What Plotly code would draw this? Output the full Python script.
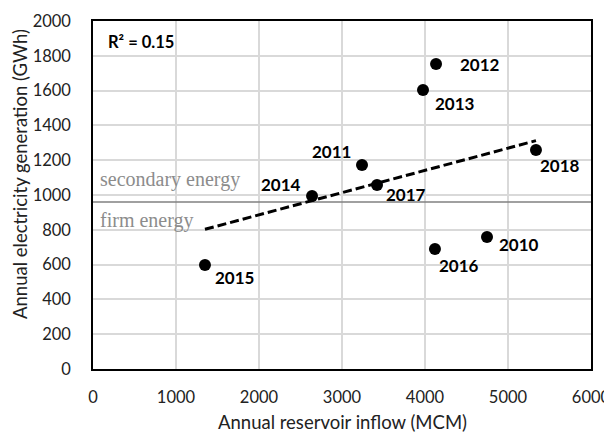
import numpy as np
import plotly.graph_objects as go

years = ["2010", "2011", "2012", "2013", "2014", "2015", "2016", "2017", "2018"]
inflow = [4747, 3241, 4133, 3976, 2639, 1349, 4120, 3422, 5337]
generation = [759, 1172, 1753, 1603, 994, 598, 690, 1057, 1259]
firm_energy = 960
x_ticks = [0, 1000, 2000, 3000, 4000, 5000, 6000]
y_ticks = [0, 200, 400, 600, 800, 1000, 1200, 1400, 1600, 1800, 2000]

# label offsets (pixels): xshift, yshift, anchor
label_style = {
    "2010": (10, -8, "left"),
    "2011": (-9, 14, "right"),
    "2012": (22, -1, "left"),
    "2013": (10, -13, "left"),
    "2014": (-9, 12, "right"),
    "2015": (8, -13, "left"),
    "2016": (2, -17, "left"),
    "2017": (7, -9, "left"),
    "2018": (2, -16, "left"),
}

slope, intercept = np.polyfit(inflow, generation, 1)
xfit = np.array([min(inflow), max(inflow)])
yfit = slope * xfit + intercept

fig = go.Figure()
fig.add_trace(go.Scatter(x=[0, 6000], y=[firm_energy, firm_energy], mode="lines",
                         line=dict(color="#808080", width=1.5), hoverinfo="skip"))
fig.add_trace(go.Scatter(x=xfit, y=yfit, mode="lines",
                         line=dict(color="black", width=3, dash="9px,4px")))
fig.add_trace(go.Scatter(x=inflow, y=generation, mode="markers",
                         marker=dict(color="black", size=12)))

font_main = "Lato, 'Open Sans', sans-serif"
for yr, xv, yv in zip(years, inflow, generation):
    dx, dy, anc = label_style[yr]
    fig.add_annotation(x=xv, y=yv, text=yr, showarrow=False, xanchor=anc, yanchor="middle",
                       xshift=dx, yshift=dy, font=dict(family=font_main, size=17, color="black", weight="bold"))

fig.add_annotation(xref="paper", yref="paper", x=0, y=1, xshift=13, yshift=-21,
                   xanchor="left", yanchor="middle", showarrow=False,
                   text="<b>R² = 0.15</b>", font=dict(family=font_main, size=16.5, color="black"))
fig.add_annotation(xref="paper", yref="y", x=0, y=firm_energy, xshift=5, yshift=22,
                   xanchor="left", yanchor="middle", showarrow=False,
                   text="secondary energy", font=dict(family="'Liberation Serif', serif", size=20, color="#8c8c8c"))
fig.add_annotation(xref="paper", yref="y", x=0, y=firm_energy, xshift=5, yshift=-19,
                   xanchor="left", yanchor="middle", showarrow=False,
                   text="firm energy", font=dict(family="'Liberation Serif', serif", size=20, color="#8c8c8c"))

# axis titles
fig.add_annotation(xref="paper", yref="paper", x=0.5, y=0, yshift=-53, xanchor="center", yanchor="middle",
                   showarrow=False, text="Annual reservoir inflow (MCM)",
                   font=dict(family=font_main, size=18.5, color="#222222"))
fig.add_annotation(xref="paper", yref="paper", x=0, y=0.5, xshift=-73, yshift=21, xanchor="center",
                   yanchor="middle", textangle=-90, showarrow=False,
                   text="Annual electricity generation (GWh)",
                   font=dict(family=font_main, size=18.5, color="#222222"))

# page body has an 8px margin: figure is 604x424 placed at (8, 8)
fig.update_layout(
    width=604, height=424,
    margin=dict(l=85, r=21, t=13, b=63),
    plot_bgcolor="white", paper_bgcolor="white",
    showlegend=False,
    font=dict(family=font_main, size=16.5, color="#222222"),
)
fig.update_xaxes(range=[0, 6000], tickvals=x_ticks, showgrid=True, gridcolor="#d9d9d9", gridwidth=1.5,
                 showline=True, linecolor="black", linewidth=1.5, mirror=True, zeroline=False,
                 ticks="", ticklabelstandoff=12, automargin=False, tickfont=dict(size=16.5))
fig.update_yaxes(range=[0, 2000], tickvals=y_ticks, showgrid=True, gridcolor="#d9d9d9", gridwidth=1.5,
                 showline=True, linecolor="black", linewidth=1.5, mirror=True, zeroline=False,
                 ticks="", ticklabelstandoff=17, automargin=False, tickfont=dict(size=16.5))

fig.write_html("out.html")
